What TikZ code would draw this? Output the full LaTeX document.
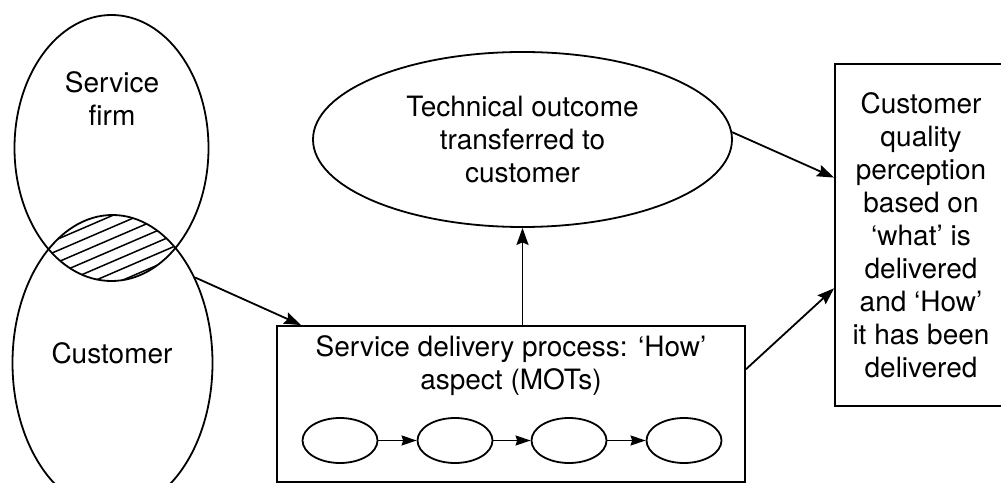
\documentclass[tikz,border=0pt]{standalone}
\usepackage{fontspec}
\setmainfont{TeX Gyre Heros}
\usetikzlibrary{shapes.geometric,arrows.meta,calc}

\tikzset{
  outline/.style={draw, line width=1.8bp},
  ell/.style={outline, ellipse, inner sep=0pt},
  boxnode/.style={outline, rectangle, inner sep=0pt},
  lbl/.style={font=\fontsize{28bp}{33bp}\selectfont, align=center, inner sep=0pt},
  arr/.style={line width=1.8bp, -{Stealth[length=17bp,width=12bp,inset=2.5bp]}},
  smallarr/.style={line width=1.8bp, -{Stealth[length=15bp,width=10bp,inset=1.5bp]}},
  hatch/.style={line width=1.5bp},
  step box/.style={ell, minimum width=75bp, minimum height=45bp}
}

\begin{document}
\begin{tikzpicture}[x=1bp, y=-1bp]
\useasboundingbox (0,0) rectangle (1001,483);

% overlapping ellipses: the firm and the customer
\node[ell, minimum width=194bp, minimum height=266bp] (firm) at (111.5,148) {};
\node[ell, minimum width=200bp, minimum height=296bp] (cust) at (112.5,363) {};
\node[lbl] (firmlbl) at (112,99) {Service\\firm};
\node[lbl] (custlbl) at (112,353) {Customer};

% hatched overlap of the two ellipses
\begin{scope}
  \clip (111.5,148) ellipse [x radius=97, y radius=133];
  \clip (112.5,363) ellipse [x radius=100, y radius=148];
  \foreach \k in {-7,...,7}
    \draw[hatch] (30, {250+11.5*\k+35.5}) -- (195, {250+11.5*\k-35.5});
\end{scope}

% technical outcome
\node[ell, lbl, minimum width=419bp, minimum height=175bp] (tech) at (522.5,139.5)
  {Technical outcome\\transferred to\\customer};

% customer perception box
\node[boxnode, lbl, minimum width=172bp, minimum height=342bp] (rbox) at (921,235)
  {Customer\\quality\\perception\\based on\\‘what’ is\\delivered\\and ‘How’\\it has been\\delivered};

% service delivery process box
\node[boxnode, minimum width=468bp, minimum height=156bp] (dbox) at (511,404) {};
\node[lbl] (dlbl) at (511,365.5) {Service delivery process: ‘How’\\aspect (MOTs)};

% moments of truth
\node[step box] (m1) at (340,440.5) {};
\node[step box] (m2) at (455,440.5) {};
\node[step box] (m3) at (569,440.5) {};
\node[step box] (m4) at (684,440.5) {};
\draw[smallarr] (m1.east) -- (m2.west);
\draw[smallarr] (m2.east) -- (m3.west);
\draw[smallarr] (m3.east) -- (m4.west);

% connectors
\coordinate (dIn) at ($(dbox.north west)+(25,0)$);
\draw[arr] (cust.46) -- (dIn);
\draw[arr] (tech.south |- dbox.north) -- (tech.south);
\draw[arr] (tech.2) -- ($(rbox.north west)!0.333!(rbox.south west)$);
\draw[arr] ($(dbox.north east)!0.28!(dbox.south east)$) -- ($(rbox.north west)!0.655!(rbox.south west)$);
\end{tikzpicture}
\end{document}
